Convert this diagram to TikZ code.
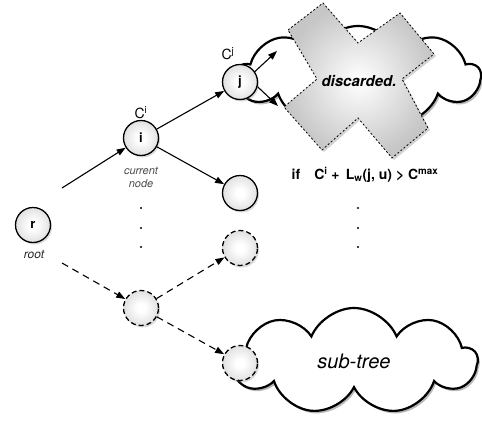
\documentclass[tikz,border=0pt]{standalone}
\usepackage{fontspec}
\setmainfont{TeX Gyre Heros}
\usetikzlibrary{arrows.meta, shapes.symbols, shadows, positioning}
\pgfdeclareradialshading{ballshade}{\pgfpoint{0bp}{0bp}}{color(0bp)=(white); color(6bp)=(white); color(50bp)=(gray!55)}
\tikzset{
	ball/.style={circle, draw, line width=1.3pt, minimum size=35pt, inner sep=0pt, shading=ballshade, drop shadow={opacity=0.3, shadow xshift=1.5pt, shadow yshift=-2pt}, font=\bfseries\fontsize{13}{13}\selectfont}, % tree node
	ghost/.style={ball, dash pattern=on 5pt off 3pt}, % node not yet visited
	subcloud/.style={cloud, cloud puffs=9, cloud puff arc=135, cloud ignores aspect, draw, line width=2.2pt, fill=white, inner sep=0pt, drop shadow={opacity=0.55, shadow xshift=2pt, shadow yshift=-2.5pt}},
	link/.style={line width=1.1pt, -{Triangle[length=9pt,width=6.5pt]}},
	dlink/.style={link, dash pattern=on 7pt off 5pt},
	dotn/.style={circle, fill, inner sep=0pt, minimum size=2.3pt},
	note/.style={font=\itshape\fontsize{11}{13}\selectfont, text=black!70, align=center},
}
\begin{document}
\begin{tikzpicture}[x=1pt, y=-1pt]
        \useasboundingbox (0,0) rectangle (482,421);
        % clouds behind everything
        \node[subcloud, minimum width=244pt, minimum height=100pt] (top) at (358,76) {};
        \node[subcloud, minimum width=246pt, minimum height=106pt, font=\itshape\fontsize{20}{20}\selectfont] (sub) at (354,361) {sub-tree};

        % the cross over the pruned part
        \path[draw, line width=0.8pt, dash pattern=on 2pt off 2pt, inner color=white, outer color=gray!45, drop shadow={opacity=0.35, shadow xshift=2pt, shadow yshift=-2pt}]
            (288,30) -- (323,3) -- (358,43) -- (400,13) -- (434,54) -- (402,79) -- (428,128)
            -- (392,158) -- (358,118) -- (322,150) -- (284,107) -- (317,79) -- cycle;
        \node[font=\bfseries\itshape\fontsize{15}{15}\selectfont] (disc) at (359,81) {discarded.};

        % tree nodes
        \node[ball] (r) at (33,225) {r};
        \node[ball] (i) at (141,138) {i};
        \node[ball] (j) at (240,82) {j};
        \node[ball] (n2) at (240,193) {};
        \node[ghost] (n3) at (240,248) {};
        \node[ghost] (m) at (141,308) {};
        \node[ghost] (s) at (240,363) {};

        % labels
        \node[font=\fontsize{14}{14}\selectfont] (ci) at (141,113) {C\textsuperscript{i}};
        \node[font=\fontsize{14}{14}\selectfont] (cj) at (228,54) {C\textsuperscript{j}};
        \node[note] (cur) at (141,177) {current\\node};
        \node[note, font=\itshape\fontsize{12}{12}\selectfont, text=black!85] (rootl) at (34,255) {root};
        \node[font=\bfseries\fontsize{14}{14}\selectfont] (cond) at (365,175)
            {if\quad C\textsuperscript{i} + \,L\textsubscript{w}(j, u) > C\textsuperscript{max}};
        \foreach \y [count=\k] in {208,228,247} {
            \node[dotn] (dl\k) at (141,\y) {};
            \node[dotn] (dr\k) at (358,\y) {};
        }

        % free ends of the edges
        \coordinate (rhi) at (62,188);
        \coordinate (rlo) at (62,263);
        \coordinate (ja) at (277,51);
        \coordinate (jb) at (278,106);

        % edges
        \draw[link] (rhi) -- (i);
        \draw[link] (i) -- (j);
        \draw[link] (i) -- (n2);
        \draw[link] (j.35) -- (ja);
        \draw[link] (j.-15) -- (jb);
        \draw[dlink] (rlo) -- (m);
        \draw[dlink] (m) -- (n3);
        \draw[dlink] (m) -- (s);
    \end{tikzpicture}
\end{document}
